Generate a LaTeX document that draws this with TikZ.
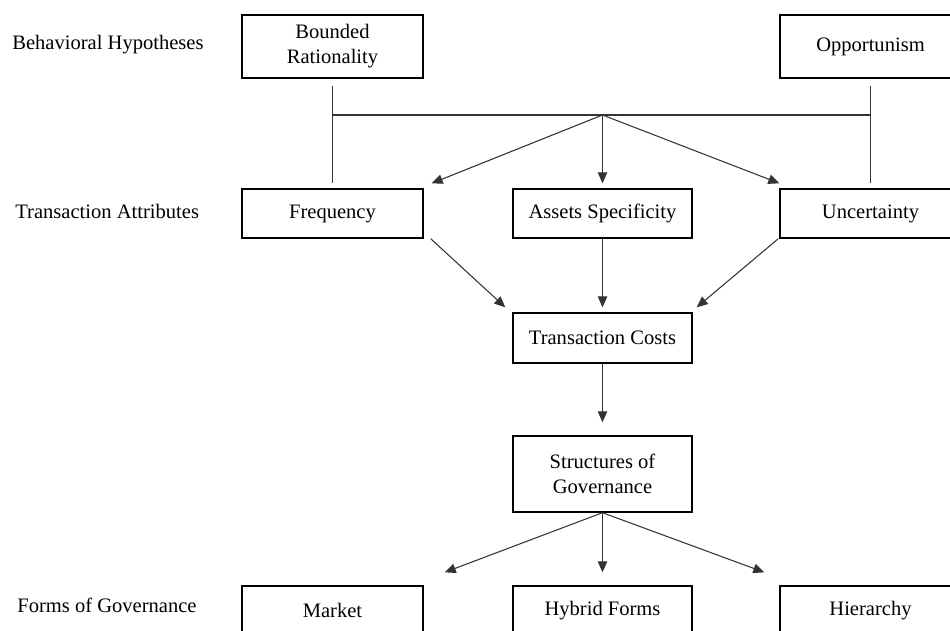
\documentclass[tikz,border=0pt]{standalone}
\usepackage{fontspec}
\setmainfont{Liberation Serif}
\usetikzlibrary{arrows.meta}

\begin{document}
\begin{tikzpicture}[x=0.02cm,y=-0.02cm,
    box/.style={draw, line width=0.8pt, minimum width=3.62cm, align=center, inner sep=2pt, font=\fontsize{11.7}{14.2}\selectfont},
    rowtext/.style={anchor=west, inner sep=0pt, font=\fontsize{11.7}{14.2}\selectfont},
    link/.style={line width=0.6pt, black!80},
    arr/.style={link, -{Triangle[length=0.22cm,width=0.19cm]}}]
                \useasboundingbox (0,0) rectangle (950,630);
                \clip (0,0) rectangle (950,630);

                % Les niveaux a gauche
                \node[rowtext] (hyp) at (12,45) {Behavioral Hypotheses};
                \node[rowtext] (attr) at (15,211) {Transaction Attributes};
                \node[rowtext] (forms) at (17,605) {Forms of Governance};

                % Les boites
                \node[box, minimum height=1.26cm] (bounded) at (332.5,46.5) {Bounded\\Rationality};
                \node[box, minimum height=1.26cm] (opp) at (870.5,46.5) {Opportunism};
                \node[box, minimum height=0.98cm] (freq) at (332.5,213.5) {Frequency};
                \node[box, minimum height=0.98cm, minimum width=3.58cm] (assets) at (602.5,213.5) {Assets Specificity};
                \node[box, minimum height=0.98cm] (unc) at (870.5,213.5) {Uncertainty};
                \node[box, minimum height=1cm, minimum width=3.58cm] (tc) at (602.5,338) {Transaction Costs};
                \node[box, minimum height=1.52cm, minimum width=3.58cm] (sg) at (602.5,474) {Structures of\\Governance};
                \node[box, minimum height=0.98cm] (market) at (332.5,610.5) {Market};
                \node[box, minimum height=0.98cm, minimum width=3.58cm] (hybrid) at (602.5,610.5) {Hybrid Forms};
                \node[box, minimum height=0.98cm] (hier) at (870.5,610.5) {Hierarchy};
                \coordinate (hub) at (602.5,115);

                % Les traits du haut
                \draw[link] ([shift={(0,7)}]bounded.south) -- ([shift={(0,-5)}]freq.north);
                \draw[link] ([shift={(0,7)}]opp.south) -- ([shift={(0,-5)}]unc.north);
                \draw[link] (bounded.south |- hub) -- (opp.south |- hub);

                % Les fleches
                \draw[arr] (hub) -- ([shift={(8,-5)}]freq.north east);
                \draw[arr] (hub) -- ([shift={(0,-5)}]assets.north);
                \draw[arr] (hub) -- ([shift={(0,-5)}]unc.north west);
                \draw[arr] ([shift={(7,0)}]freq.south east) -- ([shift={(-7,-5)}]tc.north west);
                \draw[arr] (assets.south) -- ([shift={(0,-5)}]tc.north);
                \draw[arr] ([shift={(-1,0)}]unc.south west) -- ([shift={(4,-5)}]tc.north east);
                \draw[arr] (tc.south) -- ([shift={(0,-13)}]sg.north);
                \draw[arr] (sg.south) -- ([shift={(21,-13)}]market.north east);
                \draw[arr] (sg.south) -- ([shift={(0,-13)}]hybrid.north);
                \draw[arr] (sg.south) -- ([shift={(-15,-13)}]hier.north west);
              \end{tikzpicture}
\end{document}
